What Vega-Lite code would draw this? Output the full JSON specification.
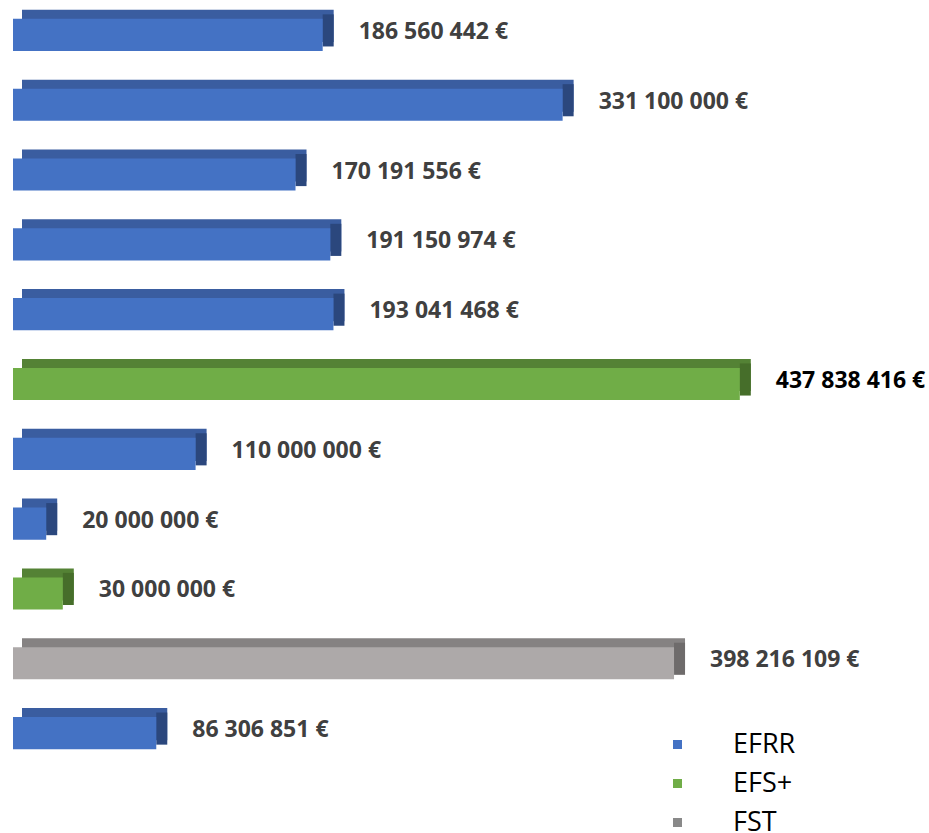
{
  "$schema": "https://vega.github.io/schema/vega-lite/v6.json",
  "width": 830,
  "height": 768,
  "autosize": {"type": "none"},
  "padding": {"left": 13, "top": 0, "right": 86, "bottom": 65},
  "background": "white",
  "config": {
    "view": {"stroke": null},
    "locale": {"number": {"decimal": ",", "thousands": " ", "grouping": [3], "currency": ["", " €"]}}
  },
  "data": {
    "values": [
      {"row": 1, "fund": "EFRR", "value": 186560442},
      {"row": 2, "fund": "EFRR", "value": 331100000},
      {"row": 3, "fund": "EFRR", "value": 170191556},
      {"row": 4, "fund": "EFRR", "value": 191150974},
      {"row": 5, "fund": "EFRR", "value": 193041468},
      {"row": 6, "fund": "EFS+", "value": 437838416},
      {"row": 7, "fund": "EFRR", "value": 110000000},
      {"row": 8, "fund": "EFRR", "value": 20000000},
      {"row": 9, "fund": "EFS+", "value": 30000000},
      {"row": 10, "fund": "FST", "value": 398216109},
      {"row": 11, "fund": "EFRR", "value": 86306851}
    ]
  },
  "encoding": {
    "y": {"field": "row", "type": "ordinal", "axis": null,
          "scale": {"paddingInner": 0.54, "paddingOuter": 0.27}},
    "x": {"field": "value", "type": "quantitative", "axis": null,
          "scale": {"domain": [0, 500000000]}}
  },
  "layer": [
    {
      "mark": {"type": "bar", "opacity": 0},
      "encoding": {
        "x2": {"datum": 0},
        "color": {"field": "fund", "type": "nominal",
                  "scale": {"domain": ["EFRR", "EFS+", "FST"], "range": ["#4472C4", "#70AD47", "#898989"]},
                  "legend": {
                    "title": null, "orient": "none", "legendX": 651, "legendY": 731,
                    "symbolType": "square", "symbolSize": 81, "symbolOpacity": 1, "labelFont": "Open Sans",
                    "labelFontSize": 27, "labelColor": "#000000", "labelOffset": 42, "rowPadding": 11,
                    "symbolStrokeWidth": 0
                  }}
      }
    },
    {
      "mark": {"type": "bar", "xOffset": 11, "x2Offset": 9, "yOffset": -9},
      "encoding": {
        "x2": {"datum": 0},
        "color": {"field": "fund", "type": "nominal", "legend": null,
                  "scale": {"domain": ["EFRR", "EFS+", "FST"], "range": ["#3A5DA0", "#548235", "#858282"]}}
      }
    },
    {
      "mark": {"type": "bar", "x2Offset": 11, "yOffset": -4.5},
      "encoding": {
        "x2": {"field": "value"},
        "color": {"field": "fund", "type": "nominal", "legend": null,
                  "scale": {"domain": ["EFRR", "EFS+", "FST"], "range": ["#2B477D", "#466E2A", "#6E6B6B"]}}
      }
    },
    {
      "mark": {"type": "bar"},
      "encoding": {
        "x2": {"datum": 0},
        "color": {"field": "fund", "type": "nominal", "legend": null,
                  "scale": {"domain": ["EFRR", "EFS+", "FST"], "range": ["#4472C4", "#70AD47", "#ADA9A9"]}}
      }
    },
    {
      "mark": {"type": "text", "align": "left", "baseline": "middle", "dx": 36, "dy": -3,
               "font": "Open Sans", "fontWeight": "bold", "fontSize": 23},
      "encoding": {
        "text": {"field": "value", "type": "quantitative", "format": "$,.0f"},
        "color": {
          "condition": {"test": "datum.value > 400000000 && datum.fund === 'EFS+'", "value": "#000000"},
          "value": "#404040"
        }
      }
    }
  ],
  "resolve": {"scale": {"color": "independent"}}
}
